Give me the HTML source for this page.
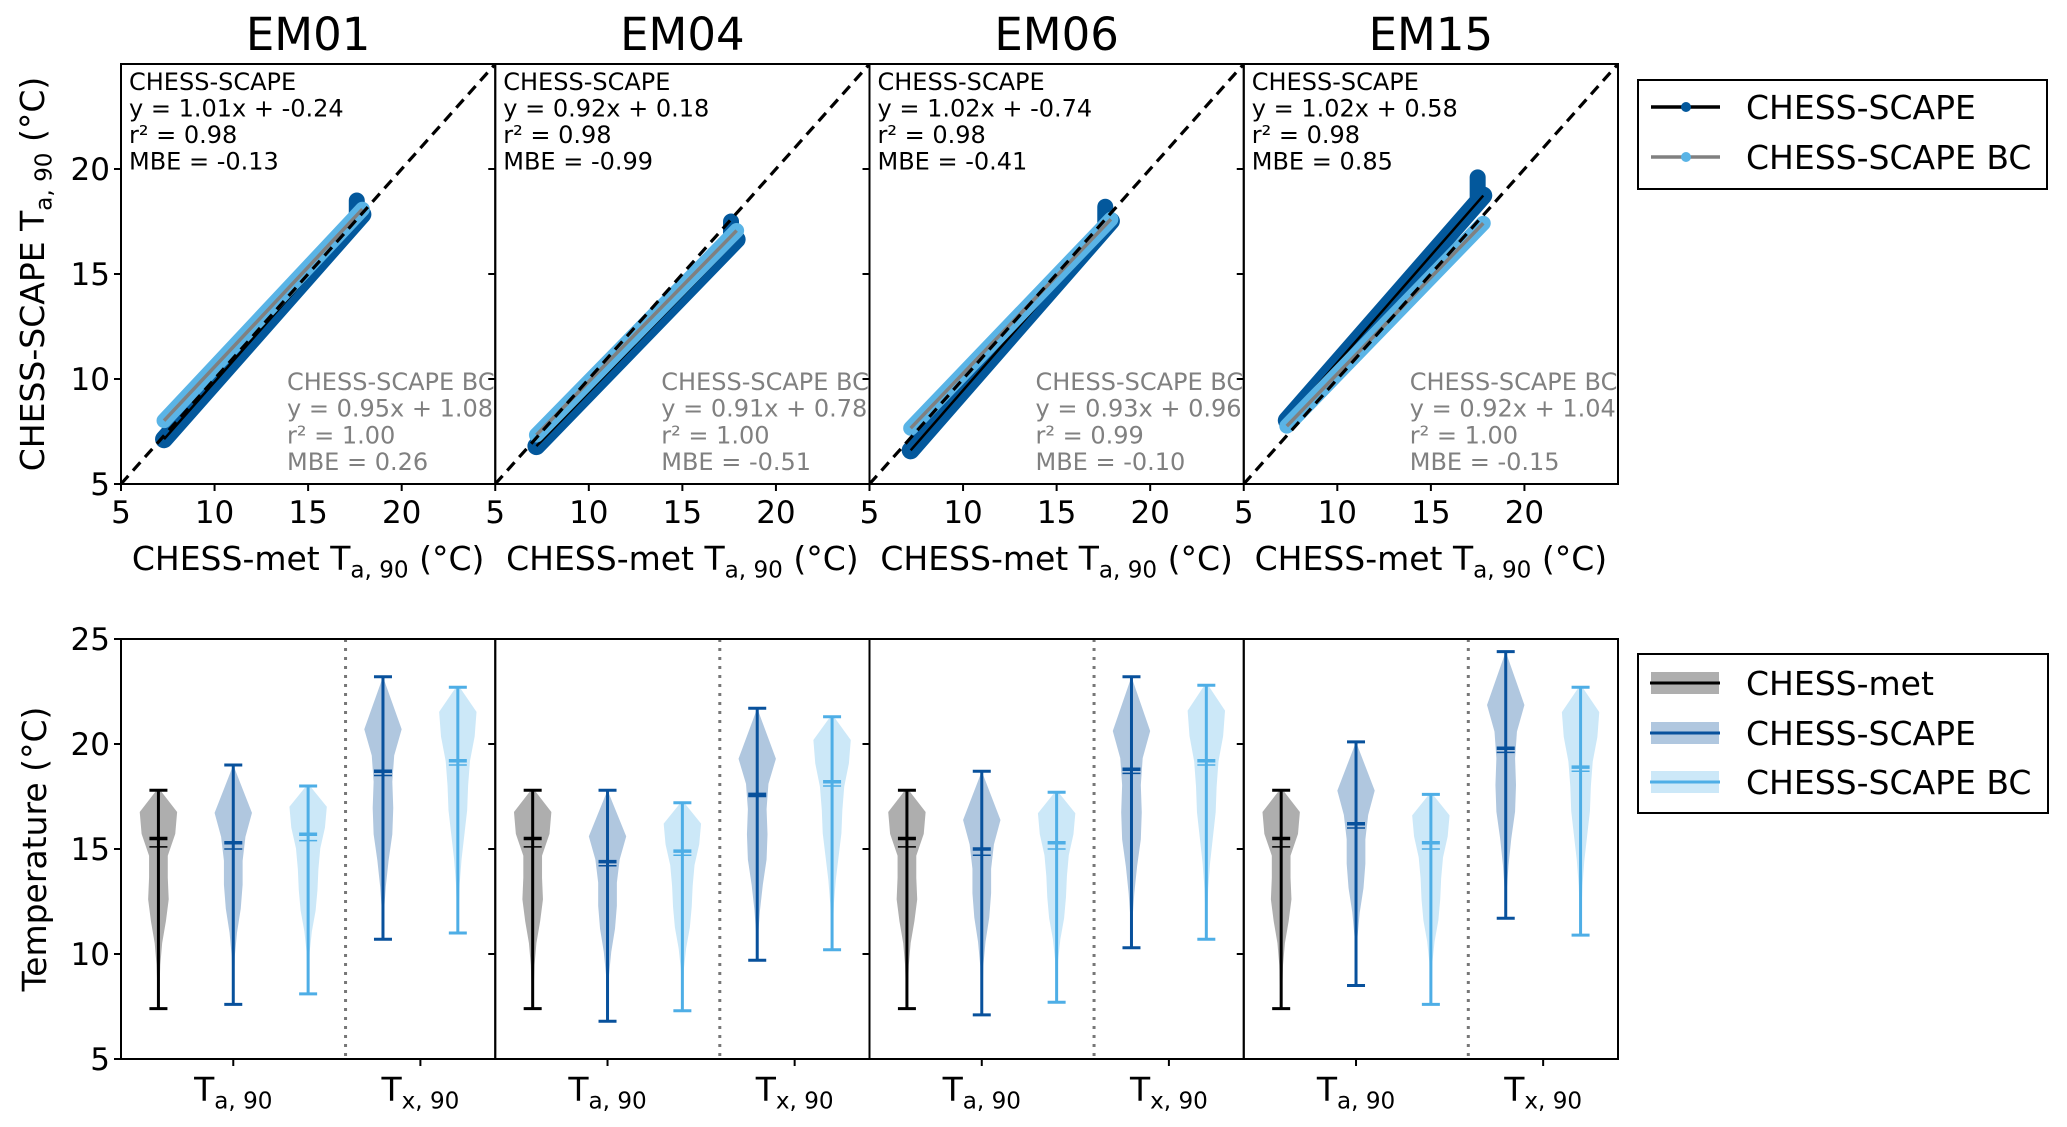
<!DOCTYPE html>
<html><head><meta charset="utf-8"><style>
body{margin:0;background:#fff}
svg{display:block;font-family:"DejaVu Sans","Liberation Sans",sans-serif}
</style></head><body>
<svg id="fig" width="2067" height="1127" viewBox="0 0 2067 1127" xmlns="http://www.w3.org/2000/svg"></svg>
<script>
const panels=['EM01','EM04','EM06','EM15'];
// top scatter data
const scapeSlope=[1.01,0.92,1.02,1.02];
const scapeInt=[-0.24,0.18,-0.74,0.58];
const bcSlope=[0.95,0.91,0.93,0.92];
const bcInt=[1.08,0.78,0.96,1.04];
const scapeR2=['0.98','0.98','0.98','0.98'];
const scapeMBE=['-0.13','-0.99','-0.41','0.85'];
const bcR2=['1.00','1.00','0.99','1.00'];
const bcMBE=['0.26','-0.51','-0.10','-0.15'];
const xMin=[7.3,7.2,7.2,7.3];
const xMax=[17.9,17.9,17.9,17.8];
const scapeTop=[18.9,17.9,18.6,20.0];
const scatterTicks=[5,10,15,20];
// violin data: order met Ta, scape Ta, bc Ta, scape Tx, bc Tx
const vMin=[[7.4,7.6,8.1,10.7,11.0],[7.4,6.8,7.3,9.7,10.2],[7.4,7.1,7.7,10.3,10.7],[7.4,8.5,7.6,11.7,10.9]];
const vMax=[[17.8,19.0,18.0,23.2,22.7],[17.8,17.8,17.2,21.7,21.3],[17.8,18.7,17.7,23.2,22.8],[17.8,20.1,17.6,24.4,22.7]];
const vMean=[[15.5,15.3,15.7,18.7,19.2],[15.5,14.4,14.9,17.6,18.2],[15.5,15.0,15.3,18.8,19.2],[15.5,16.2,15.3,19.8,18.9]];
const vMedian=[[15.1,15.0,15.4,18.5,19.0],[15.1,14.2,14.7,17.5,18.0],[15.1,14.7,15.0,18.6,19.0],[15.1,16.0,15.0,19.6,18.7]];
const profMet=[0,.06,.1,.2,.4,.55,.5,.5,.9,1,.1];
const profScapeTa=[0,.05,.08,.2,.4,.5,.5,.65,1,.5,0];
const profBcTa=[0,.05,.08,.2,.4,.5,.55,.65,.9,1,.1];
const profScapeTx=[0,.05,.15,.3,.5,.55,.5,.6,1,.5,0];
const profBcTx=[0,.05,.1,.2,.35,.5,.55,.65,.9,1,.1];
const vPos=[1,2,3,4,5];
const violinTicks=[5,10,15,20,25];

const NS='http://www.w3.org/2000/svg';
const svg=document.getElementById('fig');
function el(tag,attrs,parent){const e=document.createElementNS(NS,tag);for(const k in attrs)e.setAttribute(k,attrs[k]);(parent||svg).appendChild(e);return e;}
function txt(x,y,str,size,anchor,fill,parent){const t=el('text',{x:x,y:y,'font-size':size,'text-anchor':anchor||'start',fill:fill||'#000'},parent);t.textContent=str;return t;}
function subLabel(x,y,pre,main,sub,post,size,anchor,parent,rot){
  const t=el('text',{x:x,y:y,'font-size':size,'text-anchor':anchor},parent);
  if(rot)t.setAttribute('transform',rot);
  const a=el('tspan',{},t);a.textContent=pre+main;
  const b=el('tspan',{dy:size*0.22,'font-size':size*0.7},t);b.textContent=sub;
  const c=el('tspan',{dy:-size*0.22},t);c.textContent=post;
  return t;
}
const W=374.25, L0=121;
const topY0=64, topY1=484, botY0=639, botY1=1059;
const sx=(i,v)=>L0+i*W+(v-5)/20*W;
const sy=v=>topY1-(v-5)/20*(topY1-topY0);
const vx=(i,v)=>L0+i*W+(v-0.5)/5*W;
const vy=v=>botY1-(v-5)/20*(botY1-botY0);
const TICK=31, LAB=33;

for(let i=0;i<4;i++){
  const g=el('g',{},svg);
  
  
  const left=L0+i*W;
  const cid='clip'+i;
  const cp=el('clipPath',{id:cid},g);el('rect',{x:left,y:topY0,width:W,height:topY1-topY0},cp);
  const inner=el('g',{'clip-path':'url(#'+cid+')'},g);
  const d=el('line',{x1:sx(i,xMin[i]),y1:sy(scapeSlope[i]*xMin[i]+scapeInt[i]),x2:sx(i,xMax[i]),y2:sy(scapeSlope[i]*xMax[i]+scapeInt[i]),stroke:'#03589c','stroke-width':18,'stroke-linecap':'round'},inner);
  
  
  const sp=el('line',{x1:sx(i,xMax[i]-0.3),y1:sy(scapeSlope[i]*(xMax[i]-0.3)+scapeInt[i]),x2:sx(i,xMax[i]-0.3),y2:sy(scapeTop[i]-0.4),stroke:'#03589c','stroke-width':16,'stroke-linecap':'round'},inner);
  
  
  const bl=el('line',{x1:sx(i,xMin[i]),y1:sy(scapeSlope[i]*xMin[i]+scapeInt[i]),x2:sx(i,xMax[i]),y2:sy(scapeSlope[i]*xMax[i]+scapeInt[i]),stroke:'#000','stroke-width':2.5},inner);
  
  
  const lb=el('line',{x1:sx(i,xMin[i]),y1:sy(bcSlope[i]*xMin[i]+bcInt[i]),x2:sx(i,xMax[i]),y2:sy(bcSlope[i]*xMax[i]+bcInt[i]),stroke:'#5ab4e6','stroke-width':15,'stroke-linecap':'round'},inner);
  
  
  const gl=el('line',{x1:sx(i,xMin[i]),y1:sy(bcSlope[i]*xMin[i]+bcInt[i]),x2:sx(i,xMax[i]),y2:sy(bcSlope[i]*xMax[i]+bcInt[i]),stroke:'#808080','stroke-width':3.5},inner);
  
  
  const dl=el('line',{x1:sx(i,5),y1:sy(5),x2:sx(i,25),y2:sy(25),stroke:'#000','stroke-width':3.2,'stroke-dasharray':'11,7'},inner);
  
  
  el('rect',{x:left,y:topY0,width:W,height:topY1-topY0,fill:'none',stroke:'#000','stroke-width':2},g);
  const ti=txt(left+W/2,50,panels[i],45,'middle','#000',g);
  
  
  const lines1=['CHESS-SCAPE','y = '+scapeSlope[i].toFixed(2)+'x + '+scapeInt[i].toFixed(2),'r² = '+scapeR2[i],'MBE = '+scapeMBE[i]];
  lines1.forEach((s,k)=>{const t=txt(left+8,90+k*26.5,s,24,'start','#000',g);});
  const lines2=['CHESS-SCAPE BC','y = '+bcSlope[i].toFixed(2)+'x + '+bcInt[i].toFixed(2),'r² = '+bcR2[i],'MBE = '+bcMBE[i]];
  lines2.forEach((s,k)=>{const t=txt(left+166,390+k*26.7,s,24,'start','#808080',g);});
  scatterTicks.forEach(v=>{
    el('line',{x1:sx(i,v),y1:topY1,x2:sx(i,v),y2:topY1+7,stroke:'#000','stroke-width':2},g);
    const t=txt(sx(i,v),topY1+39,String(v),TICK,'middle','#000',g);
    
    
    el('line',{x1:left,y1:sy(v),x2:left-7,y2:sy(v),stroke:'#000','stroke-width':2},g);
    if(i===0){const t2=txt(left-11,sy(v)+11,String(v),TICK,'end','#000',g);}
  });
  const xl=subLabel(left+W/2,570,'CHESS-met ','T','a, 90',' (°C)',LAB,'middle',g);
  
  
}
const yl=subLabel(0,0,'CHESS-SCAPE ','T','a, 90',' (°C)',LAB,'middle',svg,'translate(44,274) rotate(-90)');



// violins
const lineCol=['#000000','#08519c','#4eaee6','#08519c','#4eaee6'];
const fillCol=['#8c8c8c','#08519c','#56b4e9','#08519c','#56b4e9'];
const fillOp=[0.7,0.32,0.3,0.32,0.3];
const profiles=[profMet,profScapeTa,profBcTa,profScapeTx,profBcTx];
const seriesNames=['met-ta','scape-ta','bc-ta','scape-tx','bc-tx'];
for(let i=0;i<4;i++){
  const g=el('g',{},svg);
  
  
  const left=L0+i*W;
  const dv=el('line',{x1:vx(i,3.5),y1:botY0,x2:vx(i,3.5),y2:botY1,stroke:'#777','stroke-width':3,'stroke-dasharray':'3,6'},g);
  
  
  for(let j=0;j<5;j++){
    const c=vx(i,vPos[j]);const prof=profiles[j];const mx=Math.max(...prof);
    const n=prof.length;let ptsR=[],ptsL=[];
    for(let k=0;k<n;k++){const v=vMin[i][j]+(vMax[i][j]-vMin[i][j])*k/(n-1);const w=prof[k]/mx*18.7;ptsR.push((c+w)+','+vy(v));ptsL.unshift((c-w)+','+vy(v));}
    const vp=el('polygon',{points:ptsR.concat(ptsL).join(' '),fill:fillCol[j],'fill-opacity':fillOp[j],stroke:'none'},g);
    
    
    const col=lineCol[j];
    el('line',{x1:c,y1:vy(vMin[i][j]),x2:c,y2:vy(vMax[i][j]),stroke:col,'stroke-width':3},g);
    el('line',{x1:c-9,y1:vy(vMin[i][j]),x2:c+9,y2:vy(vMin[i][j]),stroke:col,'stroke-width':3},g);
    el('line',{x1:c-9,y1:vy(vMax[i][j]),x2:c+9,y2:vy(vMax[i][j]),stroke:col,'stroke-width':3},g);
    const mn=el('line',{x1:c-9,y1:vy(vMean[i][j]),x2:c+9,y2:vy(vMean[i][j]),stroke:col,'stroke-width':3.5},g);
    
    
    const md=el('line',{x1:c-9,y1:vy(vMedian[i][j]),x2:c+9,y2:vy(vMedian[i][j]),stroke:col,'stroke-width':1.5},g);
    
    
  }
  el('rect',{x:left,y:botY0,width:W,height:botY1-botY0,fill:'none',stroke:'#000','stroke-width':2},g);
  violinTicks.forEach(v=>{
    el('line',{x1:left,y1:vy(v),x2:left-7,y2:vy(v),stroke:'#000','stroke-width':2},g);
    if(i===0){const t=txt(left-11,vy(v)+11,String(v),TICK,'end','#000',g);}
  });
  [[2,'a, 90'],[4.5,'x, 90']].forEach(([p,s])=>{
    el('line',{x1:vx(i,p),y1:botY1,x2:vx(i,p),y2:botY1+7,stroke:'#000','stroke-width':2},g);
    const t=subLabel(vx(i,p),1101,'','T',s,'',LAB,'middle',g);
    
    
  });
}
const yl2=txt(0,0,'Temperature (°C)',LAB,'middle','#000',svg);
yl2.setAttribute('transform','translate(46,849) rotate(-90)');



// legend 1
const lg1=el('g',{},svg);


el('rect',{x:1638,y:80,width:409,height:109,fill:'#fff',stroke:'#000','stroke-width':2},lg1);
[['CHESS-SCAPE','#000','#03589c',107],['CHESS-SCAPE BC','#808080','#5ab4e6',157]].forEach(([s,lc,mc,y])=>{
  el('line',{x1:1651,y1:y,x2:1720,y2:y,stroke:lc,'stroke-width':3.5},lg1);
  el('circle',{cx:1686,cy:y,r:5,fill:mc},lg1);
  const t=txt(1746,y+12,s,33,'start','#000',lg1);
  
  
});
// legend 2
const lg2=el('g',{},svg);


el('rect',{x:1638,y:654,width:410,height:159,fill:'#fff',stroke:'#000','stroke-width':2},lg2);
[['CHESS-met',0,683],['CHESS-SCAPE',1,733],['CHESS-SCAPE BC',2,782]].forEach(([s,j,y])=>{
  el('rect',{x:1651,y:y-11,width:68,height:22,fill:fillCol[j],'fill-opacity':fillOp[j]},lg2);
  el('line',{x1:1650,y1:y,x2:1720,y2:y,stroke:lineCol[j],'stroke-width':3},lg2);
  const t=txt(1746,y+12,s,33,'start','#000',lg2);
  
  
});
</script>
</body></html>
